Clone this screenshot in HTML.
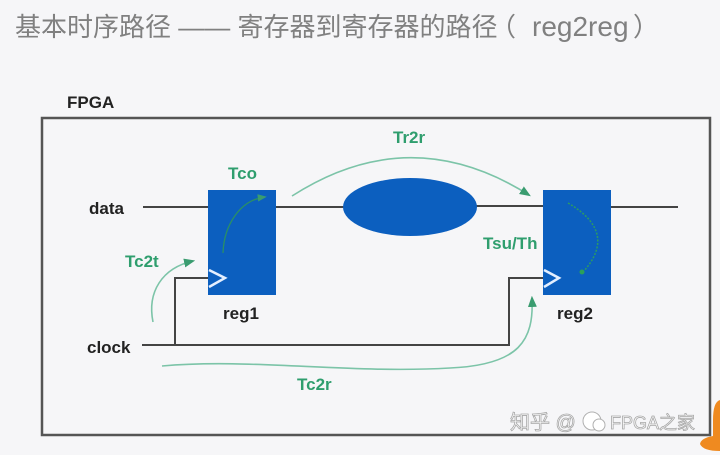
<!DOCTYPE html>
<html>
<head>
<meta charset="utf-8">
<style>
html,body{margin:0;padding:0;background:#f6f6f8;}
svg{display:block;}
.t{font-family:"Liberation Sans","Noto Sans CJK SC",sans-serif;}
.lbl{font-family:"Liberation Sans",sans-serif;font-weight:bold;font-size:17px;fill:#222;}
.g{font-family:"Liberation Sans",sans-serif;font-weight:bold;font-size:17px;fill:#2f9e6e;}
</style>
</head>
<body>
<svg width="720" height="455" viewBox="0 0 720 455" xmlns="http://www.w3.org/2000/svg">
  <rect x="0" y="0" width="720" height="455" fill="#f6f6f8"/>
  <defs>
    <marker id="ah" viewBox="0 0 10 10" refX="8" refY="5" markerWidth="7" markerHeight="7" orient="auto-start-reverse">
      <path d="M0,1 L10,5 L0,9 Z" fill="#3a9c70"/>
    </marker>
  </defs>

  <!-- Title -->
  <text class="t" x="15" y="36" font-size="26" fill="#808080">基本时序路径 —— 寄存器到寄存器的路径</text>
  <text x="490" y="36" font-size="26" fill="#808080" font-family="'Noto Sans CJK SC',sans-serif">（</text>
  <text x="532" y="36" font-size="28" fill="#808080" font-family="'Liberation Sans',sans-serif">reg2reg</text>
  <text x="633" y="36" font-size="26" fill="#808080" font-family="'Noto Sans CJK SC',sans-serif">）</text>

  <!-- FPGA label -->
  <text x="67" y="108" font-family="'Liberation Sans',sans-serif" font-weight="bold" font-size="17" fill="#222">FPGA</text>

  <!-- Outer box -->
  <rect x="42" y="118" width="668" height="317" fill="none" stroke="#555" stroke-width="2.5"/>

  <!-- Orange corner -->
  <path d="M720,400 Q713,402 713,420 L713,436 Q701,438 700,444 Q703,451 720,451 Z" fill="#ef8a20"/>

  <!-- Wires -->
  <g stroke="#444" stroke-width="2" fill="none">
    <line x1="143" y1="207" x2="208" y2="207"/>
    <line x1="276" y1="207" x2="344" y2="207"/>
    <line x1="476" y1="206" x2="543" y2="206"/>
    <line x1="611" y1="207" x2="678" y2="207"/>
    <line x1="142" y1="345" x2="510" y2="345"/>
    <polyline points="175,345 175,278 208,278"/>
    <polyline points="509,345 509,278 543,278"/>
  </g>

  <!-- Registers and logic -->
  <rect x="208" y="190" width="68" height="105" fill="#0c5fbf"/>
  <rect x="543" y="190" width="68" height="105" fill="#0c5fbf"/>
  <ellipse cx="410" cy="207" rx="67" ry="29" fill="#0c5fbf"/>
  <polyline points="209,270 225,278 209,287" fill="none" stroke="#e4efff" stroke-width="2.5"/>
  <polyline points="544,270 559,278 544,287" fill="none" stroke="#e4efff" stroke-width="2.5"/>

  <!-- Labels -->
  <text class="lbl" x="89" y="214">data</text>
  <text class="lbl" x="87" y="353">clock</text>
  <text class="lbl" x="223" y="319">reg1</text>
  <text class="lbl" x="557" y="319">reg2</text>

  <!-- Green timing arcs -->
  <g fill="none" stroke="#7cc4a8" stroke-width="1.6">
    <path d="M153,322 C147,292 162,268 193,261" marker-end="url(#ah)"/>
    <path d="M292,196 Q410,120 529,195" marker-end="url(#ah)"/>
    <path d="M162,366 C250,358 350,374 450,368 C520,365 534,340 532,298" marker-end="url(#ah)"/>
  </g>
  <path d="M223,253 C224,225 240,200 265,197" fill="none" stroke="#2a8f66" stroke-width="1.3" marker-end="url(#ah)"/>
  <path d="M568,203 Q618,232 584,271" fill="none" stroke="#2a9a66" stroke-width="1.5" stroke-dasharray="2,1.5"/>
  <circle cx="582" cy="272" r="2.5" fill="#2aa05a"/>

  <text class="g" x="228" y="179">Tco</text>
  <text class="g" x="393" y="143">Tr2r</text>
  <text class="g" x="125" y="267">Tc2t</text>
  <text class="g" x="483" y="249">Tsu/Th</text>
  <text class="g" x="297" y="390">Tc2r</text>

  <!-- Watermark -->
  <g font-family="'Liberation Sans','Noto Sans CJK SC',sans-serif" font-size="20" fill="#ffffff" stroke="#a8a8a8" stroke-width="0.8">
    <text x="510" y="429">知乎 @</text>
    <text x="610" y="429" font-size="18">FPGA之家</text>
  </g>
  <circle cx="592" cy="421" r="9" fill="#fff" stroke="#b0b0b0" stroke-width="1"/>
  <circle cx="599" cy="425" r="6" fill="#fff" stroke="#b0b0b0" stroke-width="1"/>
</svg>
</body>
</html>
